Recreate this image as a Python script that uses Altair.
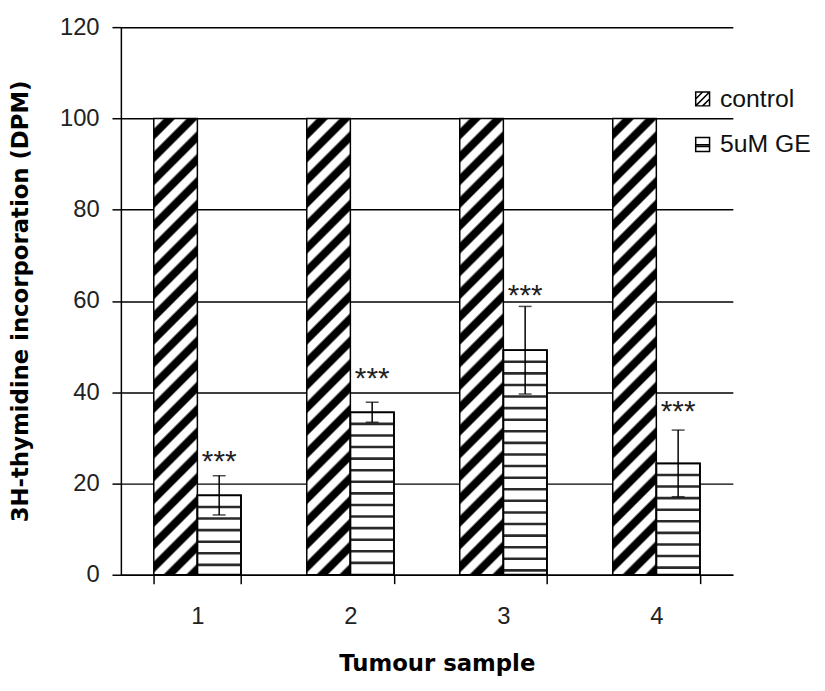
import altair as alt
import pandas as pd

# ---------------- data ----------------
samples = ["1", "2", "3", "4"]
series = ["control", "5uM GE"]
control_vals = [100, 100, 100, 100]
ge_vals = [17.4, 35.6, 49.2, 24.4]
ge_err = [4.3, 2.2, 9.6, 7.3]
star_levels = [26.5, 44.7, 62.9, 37.3]
star_text = ["***", "***", "***", "***"]
y_ticks = [0, 20, 40, 60, 80, 100, 120]

# ---------------- layout / style ----------------
PW, PH = 618, 553
YMAX = 120
PAD_INNER = 0.43

bars = pd.DataFrame({
    "sample": samples * 2,
    "series": ["control"] * len(samples) + ["5uM GE"] * len(samples),
    "value": control_vals + ge_vals,
})
ctrl_df = bars[bars["series"] == "control"]
ge_df = pd.DataFrame({
    "sample": samples,
    "series": "5uM GE",
    "value": ge_vals,
    "lo": [v - e for v, e in zip(ge_vals, ge_err)],
    "hi": [v + e for v, e in zip(ge_vals, ge_err)],
    "star": star_levels,
    "label": star_text,
})

# horizontal hatch lines inside the 5uM GE bars (decoration)
px_per_unit = PH / YMAX
stripe_period = 11.7 / px_per_unit
stripe_thick = 2.6 / px_per_unit
rows = []
for s, v in zip(samples, ge_vals):
    k = 1
    while v - k * stripe_period > stripe_thick:
        c = v - k * stripe_period
        rows.append({"sample": s, "series": "5uM GE",
                     "a": c - stripe_thick / 2, "b": c + stripe_thick / 2})
        k += 1
stripes_df = pd.DataFrame(rows)

# diagonal hatch for the control bars as a striped linear gradient
step = PW / len(samples)
Wb = step * (1 - PAD_INNER) / 2
Hb = 100 * px_per_unit
sc = (Wb + Hb) / (Hb * (1 + (Wb / Hb) ** 2))
gx2, gy2 = sc * Wb / Hb, sc
period_px = 23.0
n = (Wb + Hb) / period_px
d = 1.0 / n
stops = []
k = 0
while k * d < 1.0:
    b0 = k * d
    for frac, col in [(0.0, "#ffffff"), (0.40, "#ffffff"), (0.52, "#000000"),
                      (0.90, "#000000"), (1.0, "#ffffff")]:
        off = b0 + frac * d
        if off <= 1.0:
            stops.append({"offset": round(off, 5), "color": col})
    k += 1
diag_fill = {"gradient": "linear", "x1": 0, "y1": 0,
             "x2": round(gx2, 5), "y2": round(gy2, 5), "stops": stops}

LABEL_FONT = "Liberation Sans"
TITLE_FONT = "DejaVu Sans"

x_axis = alt.Axis(title="Tumour sample", tickBand="extent", tickSize=9,
                  tickColor="black", tickWidth=1.5, domainColor="black",
                  domainWidth=1.5, labelFont=LABEL_FONT, labelFontSize=24,
                  labelColor="#222", labelPadding=21, labelAngle=0,
                  titleFont=TITLE_FONT, titleFontWeight="bold",
                  titleFontSize=23, titleColor="black", titlePadding=25,
                  titleX=319, titleAlign="center")
y_axis = alt.Axis(title="3H-thymidine incorporation (DPM)", values=y_ticks,
                  tickSize=9, tickColor="black", tickWidth=1.5,
                  domainColor="black", domainWidth=1.5, grid=True,
                  gridColor="black", gridWidth=1.5, labelFont=LABEL_FONT,
                  labelFontSize=24, labelColor="#222", labelPadding=13,
                  titleFont=TITLE_FONT, titleFontWeight="bold",
                  titleFontSize=23, titleColor="black", titlePadding=27)

xe = alt.X("sample:N", sort=samples,
           scale=alt.Scale(paddingInner=PAD_INNER, paddingOuter=PAD_INNER / 2),
           axis=x_axis)
xo = alt.XOffset("series:N", sort=series,
                 scale=alt.Scale(domain=series, paddingInner=0, paddingOuter=0))
ysc = alt.Scale(domain=[0, YMAX], nice=False, zero=True)


def Y(field):
    return alt.Y(field, type="quantitative", scale=ysc, axis=y_axis)


ctrl = alt.Chart(ctrl_df).mark_bar(fill=diag_fill, stroke="black",
                                   strokeWidth=1.5).encode(
    x=xe, xOffset=xo, y=Y("value"))

ge_fill = alt.Chart(ge_df).mark_bar(fill="white", stroke="black",
                                    strokeWidth=1.5).encode(
    x=xe, xOffset=xo, y=Y("value"))

stripes = alt.Chart(stripes_df).mark_bar(fill="#2a2a2a").encode(
    x=xe, xOffset=xo, y=Y("a"), y2="b")

ge_outline = alt.Chart(ge_df).mark_bar(fillOpacity=0, stroke="black",
                                       strokeWidth=1.8).encode(
    x=xe, xOffset=xo, y=Y("value"))

err_rule = alt.Chart(ge_df).mark_rule(color="black", strokeWidth=1.5).encode(
    x=xe, xOffset=xo, y=Y("lo"), y2="hi")

err_lo = alt.Chart(ge_df).mark_tick(orient="horizontal", size=13,
                                    thickness=1.5, color="black").encode(
    x=xe, xOffset=xo, y=Y("lo"))
err_hi = alt.Chart(ge_df).mark_tick(orient="horizontal", size=13,
                                    thickness=1.5, color="black").encode(
    x=xe, xOffset=xo, y=Y("hi"))

stars = alt.Chart(ge_df).mark_text(font=LABEL_FONT, fontSize=30,
                                   baseline="middle", dy=8,
                                   color="#222").encode(
    x=xe, xOffset=xo, y=Y("star"), text="label:N")

path_ctrl = "M-1,-1H1V1H-1Z M-1,1L1,-1 M0,1L1,0 M-1,0L0,-1"
path_ge = "M-1,-1H1V1H-1Z M-1,0.05H1 M-1,0.3H1"
legend_pts = alt.Chart(bars).mark_point(filled=False, opacity=0,
                                        color="black").encode(
    x=xe, xOffset=xo, y=Y("value"),
    shape=alt.Shape("series:N", sort=series,
                    scale=alt.Scale(domain=series, range=[path_ctrl, path_ge]),
                    legend=alt.Legend(title=None, orient="none",
                                      legendX=575, legendY=60,
                                      symbolSize=196, symbolStrokeWidth=1.5,
                                      symbolStrokeColor="black",
                                      symbolFillColor="white",
                                      symbolOpacity=1,
                                      labelFont=LABEL_FONT, labelFontSize=25,
                                      labelColor="#111", labelOffset=5,
                                      rowPadding=20, padding=0)))

chart = alt.layer(ctrl, ge_fill, stripes, ge_outline, err_rule, err_lo,
                  err_hi, stars, legend_pts).properties(
    width=PW, height=PH,
    padding={"left": 114, "top": 16, "right": 85, "bottom": 106},
    autosize=alt.AutoSizeParams(type="none"),
).configure_view(stroke=None)

chart.save("out.html", embed_options={"renderer": "svg", "actions": False})
